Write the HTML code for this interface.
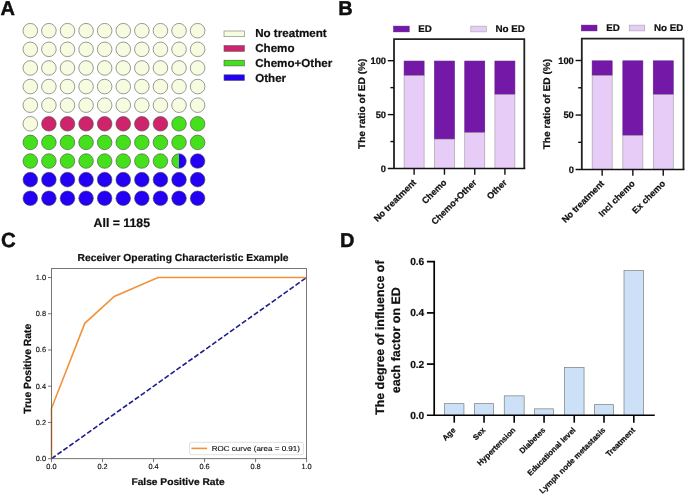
<!DOCTYPE html>
<html><head><meta charset="utf-8"><style>
html,body{margin:0;padding:0;background:#fff;overflow:hidden}
svg{display:block}
text{font-family:"Liberation Sans", sans-serif;fill:#111}
svg{will-change:transform;text-rendering:geometricPrecision}
text{stroke:#000;stroke-width:0.2px}
.m{stroke-width:0.12px}
</style></head><body>
<svg width="685" height="494" viewBox="0 0 685 494">
<rect width="685" height="494" fill="#fff"/>
<text x="0.6" y="15" font-size="20" font-weight="bold" style="stroke-width:0.4px">A</text>
<circle cx="30.30" cy="30.70" r="7.3" fill="#f5fce0" stroke="#7a7a74" stroke-width="0.75"/>
<circle cx="48.89" cy="30.70" r="7.3" fill="#f5fce0" stroke="#7a7a74" stroke-width="0.75"/>
<circle cx="67.48" cy="30.70" r="7.3" fill="#f5fce0" stroke="#7a7a74" stroke-width="0.75"/>
<circle cx="86.07" cy="30.70" r="7.3" fill="#f5fce0" stroke="#7a7a74" stroke-width="0.75"/>
<circle cx="104.66" cy="30.70" r="7.3" fill="#f5fce0" stroke="#7a7a74" stroke-width="0.75"/>
<circle cx="123.25" cy="30.70" r="7.3" fill="#f5fce0" stroke="#7a7a74" stroke-width="0.75"/>
<circle cx="141.84" cy="30.70" r="7.3" fill="#f5fce0" stroke="#7a7a74" stroke-width="0.75"/>
<circle cx="160.43" cy="30.70" r="7.3" fill="#f5fce0" stroke="#7a7a74" stroke-width="0.75"/>
<circle cx="179.02" cy="30.70" r="7.3" fill="#f5fce0" stroke="#7a7a74" stroke-width="0.75"/>
<circle cx="197.61" cy="30.70" r="7.3" fill="#f5fce0" stroke="#7a7a74" stroke-width="0.75"/>
<circle cx="30.30" cy="49.32" r="7.3" fill="#f5fce0" stroke="#7a7a74" stroke-width="0.75"/>
<circle cx="48.89" cy="49.32" r="7.3" fill="#f5fce0" stroke="#7a7a74" stroke-width="0.75"/>
<circle cx="67.48" cy="49.32" r="7.3" fill="#f5fce0" stroke="#7a7a74" stroke-width="0.75"/>
<circle cx="86.07" cy="49.32" r="7.3" fill="#f5fce0" stroke="#7a7a74" stroke-width="0.75"/>
<circle cx="104.66" cy="49.32" r="7.3" fill="#f5fce0" stroke="#7a7a74" stroke-width="0.75"/>
<circle cx="123.25" cy="49.32" r="7.3" fill="#f5fce0" stroke="#7a7a74" stroke-width="0.75"/>
<circle cx="141.84" cy="49.32" r="7.3" fill="#f5fce0" stroke="#7a7a74" stroke-width="0.75"/>
<circle cx="160.43" cy="49.32" r="7.3" fill="#f5fce0" stroke="#7a7a74" stroke-width="0.75"/>
<circle cx="179.02" cy="49.32" r="7.3" fill="#f5fce0" stroke="#7a7a74" stroke-width="0.75"/>
<circle cx="197.61" cy="49.32" r="7.3" fill="#f5fce0" stroke="#7a7a74" stroke-width="0.75"/>
<circle cx="30.30" cy="67.94" r="7.3" fill="#f5fce0" stroke="#7a7a74" stroke-width="0.75"/>
<circle cx="48.89" cy="67.94" r="7.3" fill="#f5fce0" stroke="#7a7a74" stroke-width="0.75"/>
<circle cx="67.48" cy="67.94" r="7.3" fill="#f5fce0" stroke="#7a7a74" stroke-width="0.75"/>
<circle cx="86.07" cy="67.94" r="7.3" fill="#f5fce0" stroke="#7a7a74" stroke-width="0.75"/>
<circle cx="104.66" cy="67.94" r="7.3" fill="#f5fce0" stroke="#7a7a74" stroke-width="0.75"/>
<circle cx="123.25" cy="67.94" r="7.3" fill="#f5fce0" stroke="#7a7a74" stroke-width="0.75"/>
<circle cx="141.84" cy="67.94" r="7.3" fill="#f5fce0" stroke="#7a7a74" stroke-width="0.75"/>
<circle cx="160.43" cy="67.94" r="7.3" fill="#f5fce0" stroke="#7a7a74" stroke-width="0.75"/>
<circle cx="179.02" cy="67.94" r="7.3" fill="#f5fce0" stroke="#7a7a74" stroke-width="0.75"/>
<circle cx="197.61" cy="67.94" r="7.3" fill="#f5fce0" stroke="#7a7a74" stroke-width="0.75"/>
<circle cx="30.30" cy="86.56" r="7.3" fill="#f5fce0" stroke="#7a7a74" stroke-width="0.75"/>
<circle cx="48.89" cy="86.56" r="7.3" fill="#f5fce0" stroke="#7a7a74" stroke-width="0.75"/>
<circle cx="67.48" cy="86.56" r="7.3" fill="#f5fce0" stroke="#7a7a74" stroke-width="0.75"/>
<circle cx="86.07" cy="86.56" r="7.3" fill="#f5fce0" stroke="#7a7a74" stroke-width="0.75"/>
<circle cx="104.66" cy="86.56" r="7.3" fill="#f5fce0" stroke="#7a7a74" stroke-width="0.75"/>
<circle cx="123.25" cy="86.56" r="7.3" fill="#f5fce0" stroke="#7a7a74" stroke-width="0.75"/>
<circle cx="141.84" cy="86.56" r="7.3" fill="#f5fce0" stroke="#7a7a74" stroke-width="0.75"/>
<circle cx="160.43" cy="86.56" r="7.3" fill="#f5fce0" stroke="#7a7a74" stroke-width="0.75"/>
<circle cx="179.02" cy="86.56" r="7.3" fill="#f5fce0" stroke="#7a7a74" stroke-width="0.75"/>
<circle cx="197.61" cy="86.56" r="7.3" fill="#f5fce0" stroke="#7a7a74" stroke-width="0.75"/>
<circle cx="30.30" cy="105.18" r="7.3" fill="#f5fce0" stroke="#7a7a74" stroke-width="0.75"/>
<circle cx="48.89" cy="105.18" r="7.3" fill="#f5fce0" stroke="#7a7a74" stroke-width="0.75"/>
<circle cx="67.48" cy="105.18" r="7.3" fill="#f5fce0" stroke="#7a7a74" stroke-width="0.75"/>
<circle cx="86.07" cy="105.18" r="7.3" fill="#f5fce0" stroke="#7a7a74" stroke-width="0.75"/>
<circle cx="104.66" cy="105.18" r="7.3" fill="#f5fce0" stroke="#7a7a74" stroke-width="0.75"/>
<circle cx="123.25" cy="105.18" r="7.3" fill="#f5fce0" stroke="#7a7a74" stroke-width="0.75"/>
<circle cx="141.84" cy="105.18" r="7.3" fill="#f5fce0" stroke="#7a7a74" stroke-width="0.75"/>
<circle cx="160.43" cy="105.18" r="7.3" fill="#f5fce0" stroke="#7a7a74" stroke-width="0.75"/>
<circle cx="179.02" cy="105.18" r="7.3" fill="#f5fce0" stroke="#7a7a74" stroke-width="0.75"/>
<circle cx="197.61" cy="105.18" r="7.3" fill="#f5fce0" stroke="#7a7a74" stroke-width="0.75"/>
<circle cx="30.30" cy="123.80" r="7.3" fill="#f5fce0" stroke="#7a7a74" stroke-width="0.75"/>
<circle cx="48.89" cy="123.80" r="7.3" fill="#cf246b" stroke="#4a4a4a" stroke-width="0.6"/>
<circle cx="67.48" cy="123.80" r="7.3" fill="#cf246b" stroke="#4a4a4a" stroke-width="0.6"/>
<circle cx="86.07" cy="123.80" r="7.3" fill="#cf246b" stroke="#4a4a4a" stroke-width="0.6"/>
<circle cx="104.66" cy="123.80" r="7.3" fill="#cf246b" stroke="#4a4a4a" stroke-width="0.6"/>
<circle cx="123.25" cy="123.80" r="7.3" fill="#cf246b" stroke="#4a4a4a" stroke-width="0.6"/>
<circle cx="141.84" cy="123.80" r="7.3" fill="#cf246b" stroke="#4a4a4a" stroke-width="0.6"/>
<circle cx="160.43" cy="123.80" r="7.3" fill="#cf246b" stroke="#4a4a4a" stroke-width="0.6"/>
<circle cx="179.02" cy="123.80" r="7.3" fill="#45e01c" stroke="#4a4a4a" stroke-width="0.6"/>
<circle cx="197.61" cy="123.80" r="7.3" fill="#45e01c" stroke="#4a4a4a" stroke-width="0.6"/>
<circle cx="30.30" cy="142.42" r="7.3" fill="#45e01c" stroke="#4a4a4a" stroke-width="0.6"/>
<circle cx="48.89" cy="142.42" r="7.3" fill="#45e01c" stroke="#4a4a4a" stroke-width="0.6"/>
<circle cx="67.48" cy="142.42" r="7.3" fill="#45e01c" stroke="#4a4a4a" stroke-width="0.6"/>
<circle cx="86.07" cy="142.42" r="7.3" fill="#45e01c" stroke="#4a4a4a" stroke-width="0.6"/>
<circle cx="104.66" cy="142.42" r="7.3" fill="#45e01c" stroke="#4a4a4a" stroke-width="0.6"/>
<circle cx="123.25" cy="142.42" r="7.3" fill="#45e01c" stroke="#4a4a4a" stroke-width="0.6"/>
<circle cx="141.84" cy="142.42" r="7.3" fill="#45e01c" stroke="#4a4a4a" stroke-width="0.6"/>
<circle cx="160.43" cy="142.42" r="7.3" fill="#45e01c" stroke="#4a4a4a" stroke-width="0.6"/>
<circle cx="179.02" cy="142.42" r="7.3" fill="#45e01c" stroke="#4a4a4a" stroke-width="0.6"/>
<circle cx="197.61" cy="142.42" r="7.3" fill="#45e01c" stroke="#4a4a4a" stroke-width="0.6"/>
<circle cx="30.30" cy="161.04" r="7.3" fill="#45e01c" stroke="#4a4a4a" stroke-width="0.6"/>
<circle cx="48.89" cy="161.04" r="7.3" fill="#45e01c" stroke="#4a4a4a" stroke-width="0.6"/>
<circle cx="67.48" cy="161.04" r="7.3" fill="#45e01c" stroke="#4a4a4a" stroke-width="0.6"/>
<circle cx="86.07" cy="161.04" r="7.3" fill="#45e01c" stroke="#4a4a4a" stroke-width="0.6"/>
<circle cx="104.66" cy="161.04" r="7.3" fill="#45e01c" stroke="#4a4a4a" stroke-width="0.6"/>
<circle cx="123.25" cy="161.04" r="7.3" fill="#45e01c" stroke="#4a4a4a" stroke-width="0.6"/>
<circle cx="141.84" cy="161.04" r="7.3" fill="#45e01c" stroke="#4a4a4a" stroke-width="0.6"/>
<circle cx="160.43" cy="161.04" r="7.3" fill="#45e01c" stroke="#4a4a4a" stroke-width="0.6"/>
<circle cx="179.02" cy="161.04" r="7.3" fill="#2300f5"/>
<path d="M179.02,153.74 A7.3,7.3 0 0 0 179.02,168.34 Z" fill="#45e01c"/>
<circle cx="179.02" cy="161.04" r="7.3" fill="none" stroke="#5a5a5a" stroke-width="0.6"/>
<circle cx="197.61" cy="161.04" r="7.3" fill="#2300f5" stroke="#4a4a4a" stroke-width="0.6"/>
<circle cx="30.30" cy="179.66" r="7.3" fill="#2300f5" stroke="#4a4a4a" stroke-width="0.6"/>
<circle cx="48.89" cy="179.66" r="7.3" fill="#2300f5" stroke="#4a4a4a" stroke-width="0.6"/>
<circle cx="67.48" cy="179.66" r="7.3" fill="#2300f5" stroke="#4a4a4a" stroke-width="0.6"/>
<circle cx="86.07" cy="179.66" r="7.3" fill="#2300f5" stroke="#4a4a4a" stroke-width="0.6"/>
<circle cx="104.66" cy="179.66" r="7.3" fill="#2300f5" stroke="#4a4a4a" stroke-width="0.6"/>
<circle cx="123.25" cy="179.66" r="7.3" fill="#2300f5" stroke="#4a4a4a" stroke-width="0.6"/>
<circle cx="141.84" cy="179.66" r="7.3" fill="#2300f5" stroke="#4a4a4a" stroke-width="0.6"/>
<circle cx="160.43" cy="179.66" r="7.3" fill="#2300f5" stroke="#4a4a4a" stroke-width="0.6"/>
<circle cx="179.02" cy="179.66" r="7.3" fill="#2300f5" stroke="#4a4a4a" stroke-width="0.6"/>
<circle cx="197.61" cy="179.66" r="7.3" fill="#2300f5" stroke="#4a4a4a" stroke-width="0.6"/>
<circle cx="30.30" cy="198.28" r="7.3" fill="#2300f5" stroke="#4a4a4a" stroke-width="0.6"/>
<circle cx="48.89" cy="198.28" r="7.3" fill="#2300f5" stroke="#4a4a4a" stroke-width="0.6"/>
<circle cx="67.48" cy="198.28" r="7.3" fill="#2300f5" stroke="#4a4a4a" stroke-width="0.6"/>
<circle cx="86.07" cy="198.28" r="7.3" fill="#2300f5" stroke="#4a4a4a" stroke-width="0.6"/>
<circle cx="104.66" cy="198.28" r="7.3" fill="#2300f5" stroke="#4a4a4a" stroke-width="0.6"/>
<circle cx="123.25" cy="198.28" r="7.3" fill="#2300f5" stroke="#4a4a4a" stroke-width="0.6"/>
<circle cx="141.84" cy="198.28" r="7.3" fill="#2300f5" stroke="#4a4a4a" stroke-width="0.6"/>
<circle cx="160.43" cy="198.28" r="7.3" fill="#2300f5" stroke="#4a4a4a" stroke-width="0.6"/>
<circle cx="179.02" cy="198.28" r="7.3" fill="#2300f5" stroke="#4a4a4a" stroke-width="0.6"/>
<circle cx="197.61" cy="198.28" r="7.3" fill="#2300f5" stroke="#4a4a4a" stroke-width="0.6"/>
<rect x="224" y="31.0" width="20.4" height="5.7" fill="#f5fce0" stroke="#7a7a74" stroke-width="0.6"/>
<text x="255.2" y="37.4" font-size="11.6" font-weight="bold">No treatment</text>
<rect x="224" y="45.6" width="20.4" height="5.7" fill="#cf246b" stroke="#555" stroke-width="0.6"/>
<text x="255.2" y="52.3" font-size="11.6" font-weight="bold">Chemo</text>
<rect x="224" y="60.2" width="20.4" height="5.7" fill="#45e01c" stroke="#555" stroke-width="0.6"/>
<text x="255.2" y="66.9" font-size="11.6" font-weight="bold">Chemo+Other</text>
<rect x="224" y="74.8" width="20.4" height="5.7" fill="#2300f5" stroke="#555" stroke-width="0.6"/>
<text x="255.2" y="81.7" font-size="11.6" font-weight="bold">Other</text>
<text x="93.6" y="227" font-size="12.3" font-weight="bold">All = 1185</text>
<text x="338.3" y="15" font-size="20" font-weight="bold" style="stroke-width:0.4px">B</text>
<rect x="393.6" y="26.1" width="15.6" height="5.8" fill="#7418a8" stroke="#5a1080" stroke-width="0.5"/>
<text x="418.2" y="32.1" font-size="9.8" font-weight="bold">ED</text>
<rect x="470.8" y="26.1" width="15.6" height="5.8" fill="#e8ccf8" stroke="#999" stroke-width="0.5"/>
<text x="495.5" y="32.1" font-size="9.8" font-weight="bold">No ED</text>
<rect x="404.1" y="61.05" width="20" height="14.61" fill="#7418a8" stroke="#5e1a86" stroke-width="0.6"/>
<rect x="404.1" y="75.66" width="20" height="92.84" fill="#e8ccf8" stroke="#9a9a9a" stroke-width="0.6"/>
<rect x="434.45" y="61.05" width="20" height="78.11" fill="#7418a8" stroke="#5e1a86" stroke-width="0.6"/>
<rect x="434.45" y="139.16" width="20" height="29.34" fill="#e8ccf8" stroke="#9a9a9a" stroke-width="0.6"/>
<rect x="464.75" y="61.05" width="20" height="71.64" fill="#7418a8" stroke="#5e1a86" stroke-width="0.6"/>
<rect x="464.75" y="132.69" width="20" height="35.81" fill="#e8ccf8" stroke="#9a9a9a" stroke-width="0.6"/>
<rect x="494.9" y="61.05" width="20" height="33.48" fill="#7418a8" stroke="#5e1a86" stroke-width="0.6"/>
<rect x="494.9" y="94.53" width="20" height="73.97" fill="#e8ccf8" stroke="#9a9a9a" stroke-width="0.6"/>
<path d="M394.0,168.5 V39.2 H524.3 V168.5" fill="none" stroke="#222" stroke-width="1.8"/>
<path d="M387.8,168.5 H525.1999999999999" fill="none" stroke="#111" stroke-width="1.5"/>
<path d="M387.8,60.70 H394.0" stroke="#111" stroke-width="1.4"/>
<path d="M387.8,114.60 H394.0" stroke="#111" stroke-width="1.4"/>
<path d="M390.4,87.65 H394.0" stroke="#111" stroke-width="1.4"/>
<path d="M390.4,141.55 H394.0" stroke="#111" stroke-width="1.4"/>
<text x="386.0" y="64.00" font-size="9.3" font-weight="bold" text-anchor="end">100</text>
<text x="386.0" y="117.90" font-size="9.3" font-weight="bold" text-anchor="end">50</text>
<text x="386.0" y="171.80" font-size="9.3" font-weight="bold" text-anchor="end">0</text>
<path d="M414.1,168.5 V174.7" stroke="#111" stroke-width="1.4"/>
<text transform="translate(416.70000000000005,183.0) rotate(-45)" font-size="9" font-weight="bold" text-anchor="end">No treatment</text>
<path d="M444.45,168.5 V174.7" stroke="#111" stroke-width="1.4"/>
<text transform="translate(447.05,183.0) rotate(-45)" font-size="9" font-weight="bold" text-anchor="end">Chemo</text>
<path d="M474.75,168.5 V174.7" stroke="#111" stroke-width="1.4"/>
<text transform="translate(477.35,183.0) rotate(-45)" font-size="9" font-weight="bold" text-anchor="end">Chemo+Other</text>
<path d="M504.9,168.5 V174.7" stroke="#111" stroke-width="1.4"/>
<text transform="translate(507.5,183.0) rotate(-45)" font-size="9" font-weight="bold" text-anchor="end">Other</text>
<text transform="translate(364.8,149.05) rotate(-90)" font-size="9.7" font-weight="bold" textLength="90.5" lengthAdjust="spacingAndGlyphs">The ratio of ED (%)</text>
<rect x="581.4" y="25.1" width="15.6" height="5.8" fill="#7418a8" stroke="#5a1080" stroke-width="0.5"/>
<text x="606.3" y="31.1" font-size="9.8" font-weight="bold">ED</text>
<rect x="629.2" y="25.1" width="15.6" height="5.8" fill="#e8ccf8" stroke="#999" stroke-width="0.5"/>
<text x="653.9" y="31.1" font-size="9.8" font-weight="bold">No ED</text>
<rect x="592.15" y="60.85" width="20" height="14.68" fill="#7418a8" stroke="#5e1a86" stroke-width="0.6"/>
<rect x="592.15" y="75.53" width="20" height="94.07" fill="#e8ccf8" stroke="#9a9a9a" stroke-width="0.6"/>
<rect x="622.85" y="60.85" width="20" height="74.68" fill="#7418a8" stroke="#5e1a86" stroke-width="0.6"/>
<rect x="622.85" y="135.53" width="20" height="34.07" fill="#e8ccf8" stroke="#9a9a9a" stroke-width="0.6"/>
<rect x="653.25" y="60.85" width="20" height="33.77" fill="#7418a8" stroke="#5e1a86" stroke-width="0.6"/>
<rect x="653.25" y="94.62" width="20" height="74.98" fill="#e8ccf8" stroke="#9a9a9a" stroke-width="0.6"/>
<path d="M581.8,169.6 V38.7 H683.5 V169.6" fill="none" stroke="#222" stroke-width="1.8"/>
<path d="M575.5999999999999,169.6 H684.4" fill="none" stroke="#111" stroke-width="1.5"/>
<path d="M575.5999999999999,60.50 H581.8" stroke="#111" stroke-width="1.4"/>
<path d="M575.5999999999999,115.05 H581.8" stroke="#111" stroke-width="1.4"/>
<path d="M578.1999999999999,87.77 H581.8" stroke="#111" stroke-width="1.4"/>
<path d="M578.1999999999999,142.32 H581.8" stroke="#111" stroke-width="1.4"/>
<text x="573.8" y="63.80" font-size="9.3" font-weight="bold" text-anchor="end">100</text>
<text x="573.8" y="118.35" font-size="9.3" font-weight="bold" text-anchor="end">50</text>
<text x="573.8" y="172.90" font-size="9.3" font-weight="bold" text-anchor="end">0</text>
<path d="M602.15,169.6 V175.79999999999998" stroke="#111" stroke-width="1.4"/>
<text transform="translate(604.75,184.1) rotate(-45)" font-size="9" font-weight="bold" text-anchor="end">No treatment</text>
<path d="M632.85,169.6 V175.79999999999998" stroke="#111" stroke-width="1.4"/>
<text transform="translate(635.45,184.1) rotate(-45)" font-size="9" font-weight="bold" text-anchor="end">Incl chemo</text>
<path d="M663.25,169.6 V175.79999999999998" stroke="#111" stroke-width="1.4"/>
<text transform="translate(665.85,184.1) rotate(-45)" font-size="9" font-weight="bold" text-anchor="end">Ex chemo</text>
<text transform="translate(550.4,149.35) rotate(-90)" font-size="9.7" font-weight="bold" textLength="90.5" lengthAdjust="spacingAndGlyphs">The ratio of ED (%)</text>
<text x="1.1" y="247" font-size="20.4" font-weight="bold" style="stroke-width:0.4px">C</text>
<text x="77.6" y="260.6" font-size="10.2" font-weight="bold" textLength="211" lengthAdjust="spacingAndGlyphs">Receiver Operating Characteristic Example</text>
<line x1="51.5" y1="458.7" x2="306.6" y2="277.5" stroke="#1c1c8c" stroke-width="1.6" stroke-dasharray="5.1,2.2"/>
<path d="M51.50,458.70 L51.50,408.33 L84.79,323.34 L114.25,296.53 L158.00,277.50 L306.60,277.50" fill="none" stroke="#f2923a" stroke-width="1.6"/>
<rect x="51.5" y="268.6" width="255.10000000000002" height="190.09999999999997" fill="none" stroke="#555" stroke-width="0.8"/>
<path d="M48.0,458.70 H51.5" stroke="#555" stroke-width="0.8"/>
<text x="46.0" y="461.20" font-size="7.4" fill="#222" class="m" text-anchor="end">0.0</text>
<path d="M51.50,458.7 V462.2" stroke="#555" stroke-width="0.8"/>
<text x="51.50" y="469.30" font-size="7.4" fill="#222" class="m" text-anchor="middle">0.0</text>
<path d="M48.0,422.46 H51.5" stroke="#555" stroke-width="0.8"/>
<text x="46.0" y="424.96" font-size="7.4" fill="#222" class="m" text-anchor="end">0.2</text>
<path d="M102.52,458.7 V462.2" stroke="#555" stroke-width="0.8"/>
<text x="102.52" y="469.30" font-size="7.4" fill="#222" class="m" text-anchor="middle">0.2</text>
<path d="M48.0,386.22 H51.5" stroke="#555" stroke-width="0.8"/>
<text x="46.0" y="388.72" font-size="7.4" fill="#222" class="m" text-anchor="end">0.4</text>
<path d="M153.54,458.7 V462.2" stroke="#555" stroke-width="0.8"/>
<text x="153.54" y="469.30" font-size="7.4" fill="#222" class="m" text-anchor="middle">0.4</text>
<path d="M48.0,349.98 H51.5" stroke="#555" stroke-width="0.8"/>
<text x="46.0" y="352.48" font-size="7.4" fill="#222" class="m" text-anchor="end">0.6</text>
<path d="M204.56,458.7 V462.2" stroke="#555" stroke-width="0.8"/>
<text x="204.56" y="469.30" font-size="7.4" fill="#222" class="m" text-anchor="middle">0.6</text>
<path d="M48.0,313.74 H51.5" stroke="#555" stroke-width="0.8"/>
<text x="46.0" y="316.24" font-size="7.4" fill="#222" class="m" text-anchor="end">0.8</text>
<path d="M255.58,458.7 V462.2" stroke="#555" stroke-width="0.8"/>
<text x="255.58" y="469.30" font-size="7.4" fill="#222" class="m" text-anchor="middle">0.8</text>
<path d="M48.0,277.50 H51.5" stroke="#555" stroke-width="0.8"/>
<text x="46.0" y="280.00" font-size="7.4" fill="#222" class="m" text-anchor="end">1.0</text>
<path d="M306.60,458.7 V462.2" stroke="#555" stroke-width="0.8"/>
<text x="306.60" y="469.30" font-size="7.4" fill="#222" class="m" text-anchor="middle">1.0</text>
<text x="131.4" y="484.8" font-size="9.8" font-weight="bold" textLength="93.2" lengthAdjust="spacingAndGlyphs">False Positive Rate</text>
<text transform="translate(30.6,413.7) rotate(-90)" font-size="10.4" font-weight="bold" textLength="90" lengthAdjust="spacingAndGlyphs">True Positive Rate</text>
<rect x="189.6" y="442.3" width="113.8" height="12.4" rx="1.5" fill="#fff" fill-opacity="0.85" stroke="#d4d4d4" stroke-width="0.7"/>
<path d="M191.4,448.4 H207.1" stroke="#f2923a" stroke-width="1.6"/>
<text x="211.7" y="451" font-size="7.2" fill="#222" class="m" textLength="88.3" lengthAdjust="spacingAndGlyphs">ROC curve (area = 0.91)</text>
<text x="339.9" y="247" font-size="20" font-weight="bold" style="stroke-width:0.4px">D</text>
<rect x="444.55" y="403.65" width="19.40" height="12.00" fill="#cce1f7" stroke="#7c7c7c" stroke-width="0.7"/>
<rect x="474.55" y="403.65" width="19.00" height="12.00" fill="#cce1f7" stroke="#7c7c7c" stroke-width="0.7"/>
<rect x="504.25" y="395.85" width="19.90" height="19.80" fill="#cce1f7" stroke="#7c7c7c" stroke-width="0.7"/>
<rect x="534.55" y="408.85" width="19.00" height="6.80" fill="#cce1f7" stroke="#7c7c7c" stroke-width="0.7"/>
<rect x="564.45" y="367.35" width="19.60" height="48.30" fill="#cce1f7" stroke="#7c7c7c" stroke-width="0.7"/>
<rect x="594.35" y="404.65" width="19.30" height="11.00" fill="#cce1f7" stroke="#7c7c7c" stroke-width="0.7"/>
<rect x="624.00" y="270.65" width="19.61" height="145.00" fill="#cce1f7" stroke="#7c7c7c" stroke-width="0.7"/>
<path d="M426.9,261.7 H434.2 V415.3" fill="none" stroke="#000" stroke-width="1.7"/>
<path d="M426.9,415.3 H654.8" fill="none" stroke="#000" stroke-width="1.6"/>
<text x="424.3" y="418.70" font-size="10.2" font-weight="bold" text-anchor="end">0.0</text>
<path d="M426.9,364.10 H434.2" stroke="#000" stroke-width="1.7"/>
<text x="424.3" y="367.50" font-size="10.2" font-weight="bold" text-anchor="end">0.2</text>
<path d="M426.9,312.90 H434.2" stroke="#000" stroke-width="1.7"/>
<text x="424.3" y="316.30" font-size="10.2" font-weight="bold" text-anchor="end">0.4</text>
<text x="424.3" y="265.10" font-size="10.2" font-weight="bold" text-anchor="end">0.6</text>
<path d="M454.25,415.3 V422.7" stroke="#000" stroke-width="1.6"/>
<text transform="translate(456.05,430.70) rotate(-45)" font-size="7.9" font-weight="bold" text-anchor="end">Age</text>
<path d="M484.05,415.3 V422.7" stroke="#000" stroke-width="1.6"/>
<text transform="translate(485.85,430.70) rotate(-45)" font-size="7.9" font-weight="bold" text-anchor="end">Sex</text>
<path d="M514.20,415.3 V422.7" stroke="#000" stroke-width="1.6"/>
<text transform="translate(516.00,430.70) rotate(-45)" font-size="7.9" font-weight="bold" text-anchor="end">Hypertension</text>
<path d="M544.05,415.3 V422.7" stroke="#000" stroke-width="1.6"/>
<text transform="translate(545.85,430.70) rotate(-45)" font-size="7.9" font-weight="bold" text-anchor="end">Diabetes</text>
<path d="M574.25,415.3 V422.7" stroke="#000" stroke-width="1.6"/>
<text transform="translate(576.05,430.70) rotate(-45)" font-size="7.9" font-weight="bold" text-anchor="end">Educational level</text>
<path d="M604.00,415.3 V422.7" stroke="#000" stroke-width="1.6"/>
<text transform="translate(605.80,430.70) rotate(-45)" font-size="7.9" font-weight="bold" text-anchor="end">Lymph node metastasis</text>
<path d="M633.81,415.3 V422.7" stroke="#000" stroke-width="1.6"/>
<text transform="translate(635.61,430.70) rotate(-45)" font-size="7.9" font-weight="bold" text-anchor="end">Treatment</text>
<text transform="translate(383.9,337.7) rotate(-90)" font-size="12.3" font-weight="bold" text-anchor="middle" textLength="154.5" lengthAdjust="spacingAndGlyphs">The degree of influence of</text>
<text transform="translate(399.7,340.2) rotate(-90)" font-size="12.3" font-weight="bold" text-anchor="middle" textLength="106" lengthAdjust="spacingAndGlyphs">each factor on ED</text>
</svg>
</body></html>
